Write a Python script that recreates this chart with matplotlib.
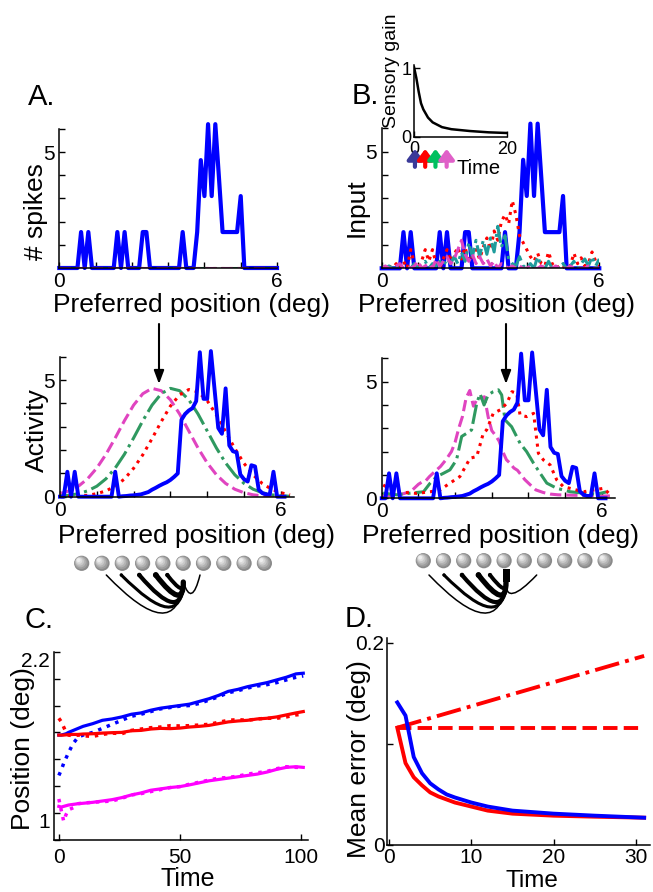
import numpy as np
import matplotlib
matplotlib.use("Agg")
import matplotlib.pyplot as plt
from matplotlib.path import Path
from matplotlib.patches import PathPatch, Circle, Rectangle

W, H = 653, 892
plt.rcParams['font.family'] = ['Liberation Sans', 'DejaVu Sans']

BLUE, RED, GREEN, TEAL, PINK, MAG = '#0000ff', '#ff0000', '#2f9960', '#1f9c9c', '#e044c0', '#ff00ff'

# --- A top: spike counts, 0..6 deg in 0.1 steps
pos_top = np.round(np.arange(61) * 0.1, 2)
spikes = [0, 0, 0, 0, 0, 0, 1.55, 0, 1.55, 0,
          0, 0, 0, 0, 0, 0, 1.55, 0, 1.55, 0,
          0, 0, 0, 1.55, 1.55, 0, 0, 0, 0, 0,
          0, 0, 0, 0, 1.55, 0, 0, 0, 1.55, 4.65,
          3.1, 6.2, 3.1, 6.2, 3.9, 1.55, 1.55, 1.55, 1.55, 1.55,
          3.1, 0, 0, 0, 0, 0, 0, 0, 0, 0, 0]

# --- B top: sensory input of the later time steps
red_in = [0, 0, 0.1, 0, 0.2, 0, 0.3, 0, 0.8, 0.2,
          0, 0.3, 0.8, 0.3, 0.8, 0.2, 0, 0.4, 0.8, 0.3,
          0.6, 0.9, 0.4, 0.9, 0.3, 0.5, 0.8, 0.4, 0.9, 1.3,
          0.8, 1.6, 1.2, 2.0, 2.3, 1.9, 2.9, 2.3, 1.4, 1.1,
          0.8, 0.5, 0.3, 0.65, 0.2, 0.1, 0.7, 0.2, 0, 0.1,
          0, 0.2, 0.1, 0.65, 0.2, 0.45, 0.1, 0.2, 0.7, 0.3, 0.1]
teal_in = [0.1, 0, 0.1, 0, 0, 0.15, 0, 0.1, 0, 0.2,
           0, 0.1, 0.3, 0, 0.2, 0.1, 0.3, 0.1, 0.4, 0.2,
           0.5, 0.2, 0.7, 0.3, 1.1, 0.5, 1.2, 0.5, 1.2, 0.6,
           1.3, 0.7, 1.8, 0.9, 1.4, 0.4, 0.2, 0.1, 0.5, 0.1,
           0, 0.2, 0, 0.5, 0.1, 0, 0.3, 0, 0.1, 0,
           0.2, 0, 0.1, 0.3, 0, 0.2, 0.4, 0.1, 0.5, 0.1, 0.4]
pink_in = [0, 0.1, 0, 0, 0.1, 0.2, 0, 0.1, 0, 0.1,
           0.3, 0, 0.1, 0.2, 0, 0.4, 0.1, 0.3, 0.5, 0.2,
           0.4, 0.8, 1.2, 0.6, 0.3, 0.6, 0.2, 0.5, 0.2, 0.4,
           0.1, 0.3, 0, 0.2, 0.1, 0, 0.1, 0, 0.1, 0,
           0, 0.1, 0, 0, 0.1, 0, 0, 0, 0.1, 0,
           0, 0, 0.1, 0, 0, 0, 0, 0.1, 0, 0, 0]

# inset: sensory gain over time
gain_t = [0, 0.5, 1, 1.5, 2, 3, 4, 6, 8, 12, 16, 20]
gain = [1.02, 0.86, 0.66, 0.49, 0.40, 0.28, 0.21, 0.14, 0.11, 0.083, 0.064, 0.054]
arrow_t = [0.2, 2.4, 4.6, 7.0]
arrow_col = ['#3a3a99', '#ff0000', '#00c060', '#e060c8']

# --- bottom rows: network activity
pos_act = np.round(np.arange(62) * 0.1, 2)
act_blue = [0, 0, 1.07, 0, 1.07, 0, 0, 0, 0, 0,
            0, 0, 0, 0, 0, 1.07, 0, 0.02, 0.03, 0.05,
            0.06, 0.08, 0.1, 0.15, 0.2, 0.3, 0.38, 0.47, 0.55, 0.62,
            0.72, 0.85, 1.0, 3.3, 3.55, 3.7, 3.8, 4.1, 6.2, 4.2,
            4.2, 6.25, 4.6, 2.95, 2.7, 4.65, 2.2, 1.95, 1.9, 0.95,
            0.75, 0.65, 1.35, 1.3, 0.3, 0.15, 0.1, 0.1, 1.07, 0, 0, 0]
pos_g = np.round(np.arange(26) * 0.25, 2)
act_pink = [0.13, 0.25, 0.45, 0.77, 1.23, 1.82, 2.52, 3.26, 3.93, 4.42, 4.65, 4.55, 4.16,
            3.55, 2.82, 2.09, 1.45, 0.94, 0.57, 0.32, 0.17, 0.08, 0.04, 0.02, 0.01, 0]
act_green = [0.03, 0.06, 0.13, 0.25, 0.45, 0.77, 1.23, 1.82, 2.52, 3.26, 3.93, 4.42, 4.65,
             4.55, 4.16, 3.55, 2.82, 2.09, 1.45, 0.94, 0.57, 0.32, 0.17, 0.08, 0.04, 0.02]
act_red = [0, 0.01, 0.03, 0.06, 0.13, 0.25, 0.45, 0.76, 1.22, 1.8, 2.49, 3.22, 3.89,
           4.37, 4.6, 4.5, 4.12, 3.51, 2.79, 2.07, 1.43, 0.93, 0.56, 0.32, 0.17, 0.08]

bp_x = [0.0, 0.2, 0.4, 0.6, 0.8, 1.0, 1.1, 1.2, 1.3, 1.45, 1.6, 1.75, 1.9, 2.0, 2.1, 2.2,
        2.3, 2.4, 2.5, 2.6, 2.7, 2.8, 2.9, 3.0, 3.1, 3.2, 3.3, 3.4, 3.5, 3.6, 3.7, 3.8,
        3.9, 4.0, 4.1, 4.2, 4.4, 4.6, 4.8, 5.0, 5.5, 6.0, 6.3]
bp_y = [0.1, 0.12, 0.14, 0.2, 0.3, 0.6, 0.7, 0.75, 0.93, 1.15, 1.36, 1.65, 2.0, 2.4, 3.0, 3.5,
        4.3, 4.62, 3.95, 4.25, 4.3, 4.35, 3.5, 2.9, 2.7, 2.45, 2.0, 1.65, 1.5, 1.3, 1.2, 1.0,
        0.8, 0.65, 0.5, 0.36, 0.25, 0.18, 0.15, 0.14, 0.12, 0.1, 0.1]
bg_x = [0.04, 0.41, 0.77, 1.14, 1.32, 1.5, 1.68, 1.86, 2.04, 2.18, 2.32, 2.45, 2.59, 2.68,
        2.79, 2.9, 3.04, 3.18, 3.27, 3.36, 3.54, 3.77, 3.95, 4.14, 4.32, 4.5, 4.77, 5.14,
        5.5, 5.86, 6.14]
bg_y = [0.22, 0.15, 0.22, 0.28, 0.65, 0.93, 1.07, 1.22, 1.65, 2.65, 2.79, 2.93, 4.07, 4.48,
        4.0, 4.43, 4.57, 4.65, 4.43, 3.36, 3.07, 2.36, 2.0, 1.5, 1.07, 0.65, 0.43, 0.28,
        0.22, 0.18, 0.28]
br_x = [0.04, 0.12, 0.41, 0.95, 1.32, 1.59, 1.86, 2.13, 2.41, 2.59, 2.77, 2.86, 3.04, 3.23,
        3.41, 3.55, 3.68, 3.77, 3.95, 4.14, 4.27, 4.41, 4.59, 4.77, 4.95, 5.5, 6.05, 6.2]
br_y = [0.57, 0.5, 0.28, 0.21, 0.28, 0.36, 0.65, 0.93, 1.72, 1.79, 2.79, 2.93, 3.64, 3.79,
        4.07, 4.57, 4.5, 3.57, 3.5, 3.64, 1.93, 1.64, 1.43, 0.79, 0.5, 0.28, 0.43, 0.2]

# --- C: decoded position over time
t_c = [0, 1, 2, 3, 4, 6, 8, 10, 14, 18, 22, 26, 30, 34, 38, 42, 46, 50, 54, 58, 62, 66, 70,
       74, 78, 82, 86, 90, 94, 98, 101]
blue_sol = [1.58, 1.58, 1.585, 1.59, 1.60, 1.615, 1.63, 1.645, 1.665, 1.69, 1.70, 1.715,
            1.735, 1.745, 1.765, 1.78, 1.79, 1.80, 1.81, 1.83, 1.85, 1.875, 1.905, 1.92,
            1.94, 1.955, 1.97, 1.99, 2.01, 2.035, 2.04]
blue_dot = [1.28, 1.32, 1.37, 1.41, 1.45, 1.52, 1.565, 1.58, 1.60, 1.63, 1.66, 1.69, 1.72,
            1.735, 1.755, 1.775, 1.785, 1.795, 1.80, 1.815, 1.84, 1.865, 1.895, 1.91, 1.93,
            1.945, 1.955, 1.97, 1.99, 2.01, 2.02]
red_sol = [1.58, 1.58, 1.58, 1.582, 1.583, 1.585, 1.585, 1.588, 1.59, 1.595, 1.598, 1.60,
           1.612, 1.615, 1.625, 1.63, 1.628, 1.632, 1.64, 1.645, 1.652, 1.665, 1.678, 1.685,
           1.69, 1.70, 1.705, 1.715, 1.73, 1.745, 1.755]
red_dot = [1.705, 1.68, 1.64, 1.60, 1.58, 1.575, 1.58, 1.575, 1.57, 1.585, 1.595, 1.59,
           1.615, 1.625, 1.635, 1.64, 1.65, 1.648, 1.65, 1.655, 1.66, 1.675, 1.69, 1.695,
           1.69, 1.70, 1.705, 1.705, 1.715, 1.73, 1.735]
mag_sol = [1.05, 1.045, 1.05, 1.055, 1.06, 1.065, 1.07, 1.073, 1.08, 1.09, 1.10, 1.115,
           1.135, 1.15, 1.17, 1.18, 1.19, 1.197, 1.21, 1.225, 1.24, 1.25, 1.26, 1.27, 1.28,
           1.29, 1.305, 1.325, 1.34, 1.345, 1.34]
mag_dot = [1.105, 1.02, 0.94, 0.99, 1.025, 1.04, 1.07, 1.075, 1.08, 1.085, 1.09, 1.11,
           1.135, 1.145, 1.16, 1.175, 1.19, 1.197, 1.215, 1.23, 1.245, 1.26, 1.265, 1.275,
           1.29, 1.30, 1.31, 1.33, 1.345, 1.34, 1.34]

# --- D: mean error over time
t_d = [1, 2, 3, 4, 5, 6, 7, 8, 10, 12, 15, 20, 25, 31]
err_red = [0.116, 0.081, 0.067, 0.059, 0.052, 0.048, 0.045, 0.042, 0.038, 0.034, 0.031,
           0.029, 0.028, 0.027]
err_blue = [0.141, 0.128, 0.087, 0.071, 0.061, 0.055, 0.050, 0.047, 0.042, 0.038, 0.034,
            0.031, 0.029, 0.027]
t_lin = [1, 31]
err_flat = [0.116, 0.116]
err_grow = [0.116, 0.187]

fig = plt.figure(figsize=(W / 100, H / 100), dpi=100)


def px_axes(left, top, right, bottom):
    return fig.add_axes([left / W, 1 - bottom / H, (right - left) / W, (bottom - top) / H])


def style(ax, xt, xl, yt, yl, size=15, xpad=3, ypad=3.5):
    for s in ['top', 'right']:
        ax.spines[s].set_visible(False)
    for s in ['left', 'bottom']:
        ax.spines[s].set_linewidth(1.1)
    ax.set_xticks(xt)
    ax.set_xticklabels(xl)
    ax.set_yticks(yt)
    ax.set_yticklabels(yl)
    ax.tick_params(direction='in', length=4, width=1, labelsize=size)
    ax.tick_params(axis='x', pad=xpad)
    ax.tick_params(axis='y', pad=ypad)
    ax.patch.set_alpha(0)


six = [0, 1, 2, 3, 4, 5, 6]
lab6 = ['0', '', '', '', '', '', '6']
laby5 = ['', '', '', '', '', '5', '']
laby05 = ['0', '', '', '', '', '5', '']

# A top
ax = px_axes(59.3, 128.8, 277, 268)
ax.plot(pos_top, spikes, color=BLUE, lw=3, clip_on=False)
ax.plot([0, 6], [0, 0], ':', color=RED, lw=2.2)
ax.plot([0, 6], [0, 0], '-.', color=GREEN, lw=2.2)
ax.plot([0, 6], [0, 0], '--', color=PINK, lw=2.2)
ax.set_xlim(0, 6); ax.set_ylim(0, 6)
style(ax, six, lab6, six, laby5)

# B top
ax = px_axes(381.7, 128.3, 599.3, 268.3)
ax.plot(pos_top, spikes, color=BLUE, lw=3, clip_on=False)
ax.plot(pos_top, red_in, ':', color=RED, lw=2.2)
ax.plot(pos_top, teal_in, '-.', color=TEAL, lw=2.2)
ax.plot(pos_top, pink_in, '--', color=PINK, lw=2.2)
ax.set_xlim(0, 6); ax.set_ylim(0, 6)
style(ax, six, lab6, six, laby5)

# inset
ax = px_axes(414, 65, 507.3, 136.7)
ax.plot(gain_t, gain, color='k', lw=1.8)
ax.set_xlim(0, 20); ax.set_ylim(0, 1.05)
style(ax, [0, 20], ['0', '20'], [0, 1], ['0', '1'], size=13, xpad=3, ypad=2)
for t, c in zip(arrow_t, arrow_col):
    ax.annotate('', xy=(t, -0.17), xytext=(t, -0.42), xycoords=('data', 'axes fraction'),
                textcoords=('data', 'axes fraction'),
                arrowprops=dict(arrowstyle='-|>,head_width=0.45,head_length=0.6',
                                lw=3, color=c, shrinkA=0, shrinkB=0))

# A bottom
ax = px_axes(60, 356.9, 293.7, 496.7)
ax.plot(pos_g, act_pink, '--', color=PINK, lw=2.2)
ax.plot(pos_g, act_green, '-.', color=GREEN, lw=2.2)
ax.plot(pos_g, act_red, ':', color=RED, lw=2.2)
ax.plot(pos_act, act_blue, color=BLUE, lw=2.8, clip_on=False)
ax.set_xlim(0, 6.35); ax.set_ylim(0, 6)
style(ax, six, lab6, six, laby05)

# B bottom
ax = px_axes(381.7, 358.3, 614.7, 498.3)
ax.plot(bp_x, bp_y, '--', color=PINK, lw=2.2)
ax.plot(bg_x, bg_y, '-.', color=GREEN, lw=2.2)
ax.plot(br_x, br_y, ':', color=RED, lw=2.2)
ax.plot(pos_act, act_blue, color=BLUE, lw=2.8, clip_on=False)
ax.set_xlim(0, 6.35); ax.set_ylim(0, 6)
style(ax, six, lab6, six, laby05)

# C
ax = px_axes(54, 651.7, 308.1, 840)
ax.plot(t_c, blue_sol, color=BLUE, lw=2.3)
ax.plot(t_c, blue_dot, ':', color=BLUE, lw=2.5)
ax.plot(t_c, red_sol, color=RED, lw=2.3)
ax.plot(t_c, red_dot, ':', color=RED, lw=2.5)
ax.plot(t_c, mag_sol, color=MAG, lw=2.3)
ax.plot(t_c, mag_dot, ':', color=MAG, lw=2.5)
ax.set_xlim(-2, 103); ax.set_ylim(0.8, 2.2)
style(ax, [0, 50, 100], ['0', '50', '100'], [0.8, 1.0, 1.2, 1.4, 1.6, 1.8, 2.0, 2.2],
      ['', '1', '', '', '', '', '', '2.2'], xpad=5.5, ypad=3)
plt.setp(ax.get_yticklabels(), va='top')

# D
ax = px_axes(387.4, 637.7, 649.9, 845)
ax.plot(t_lin, err_grow, '-.', color=RED, lw=2.8)
ax.plot(t_lin, err_flat, '--', color=RED, lw=2.8)
ax.plot(t_d, err_red, color=RED, lw=2.8)
ax.plot(t_d, err_blue, color=BLUE, lw=2.8)
ax.set_xlim(-0.2, 31.7); ax.set_ylim(0, 0.205)
style(ax, [0, 10, 20, 30], ['0', '10', '20', '30'], [0, 0.1, 0.2], ['0', '', '0.2'],
      xpad=2.5, ypad=2)

# overlay in pixel coordinates for text and drawings
ov = fig.add_axes([0, 0, 1, 1])
ov.set_xlim(0, W); ov.set_ylim(H, 0)
ov.axis('off')

LS = 19
for s, x, y in [('A.', 28.3, 105), ('B.', 351.7, 104.3), ('C.', 25, 628), ('D.', 345, 626.7)]:
    ov.text(x, y, s, fontsize=21, ha='left', va='baseline')
for x, y in [(191.5, 312), (496.5, 312), (196, 542.5), (500, 542.5)]:
    ov.text(x, y, 'Preferred position (deg)', fontsize=LS, ha='center', va='baseline')
ov.text(478.3, 174, 'Time', fontsize=14.5, ha='center', va='baseline')
ov.text(187.5, 886, 'Time', fontsize=18, ha='center', va='baseline')
ov.text(531.7, 887, 'Time', fontsize=17.5, ha='center', va='baseline')
ov.text(392, 71, 'Sensory gain', fontsize=14, ha='center', va='center', rotation=90)
for s, x, y in [('# spikes', 36, 212), ('Input', 356.7, 208), ('Activity', 36.7, 430),
                ('Position (deg)', 23.3, 749), ('Mean error (deg)', 359, 759)]:
    ov.text(x, y, s, fontsize=LS, ha='center', va='center', rotation=90)

# arrows pointing at the bump
for x in [159, 506]:
    ov.annotate('', xy=(x, 384), xytext=(x, 324),
                arrowprops=dict(arrowstyle='-|>,head_width=0.3,head_length=0.8',
                                color='k', lw=1.5, shrinkA=0, shrinkB=0))


def sphere(x, y, r=7.6):
    shades = ['#8a8a8a', '#9e9e9e', '#b3b3b3', '#c8c8c8', '#dcdcdc', '#eeeeee']
    for k, c in enumerate(shades):
        rk = r * (1 - 0.15 * k)
        o = (r - rk) * 0.55
        ov.add_patch(Circle((x - o, y - o), rk, color=c, lw=0))


def network(x0, dx, y, tx, right_dx, right_bx, stem):
    for i in range(10):
        sphere(x0 + i * dx, y)
    ty = 582
    specs = [(-77, 31, -23, 1.1), (-62, 25, -16.6, 2.2), (-44, 20, -11.6, 3.0),
             (-27.5, 13, -6.6, 3.8), (-16, 6, -3.3, 2.8), (right_dx, 11.3, right_bx, 1.1)]
    for sdx, depth, bx, lw in specs:
        p0 = np.array([tx + sdx, 575.0])
        p2 = np.array([tx, ty])
        mid = np.array([tx + bx, ty + depth])
        p1 = 2 * mid - 0.5 * (p0 + p2)
        path = Path([p0, p1, p2], [Path.MOVETO, Path.CURVE3, Path.CURVE3])
        ov.add_patch(PathPatch(path, fill=False, lw=lw, color='k', capstyle='round'))
        if lw > 2:
            ov.add_patch(Circle(p0, lw * 0.75, color='k', lw=0))
    if stem:
        ov.add_patch(Rectangle((tx - 3.5, 569), 7, 13, color='k', lw=0))


network(81.7, 20.3, 563.3, 183.3, 16.7, 8.4, False)
network(423.3, 20.2, 560.7, 506, 30.7, 7.3, True)

fig.savefig('out.png', dpi=100)
